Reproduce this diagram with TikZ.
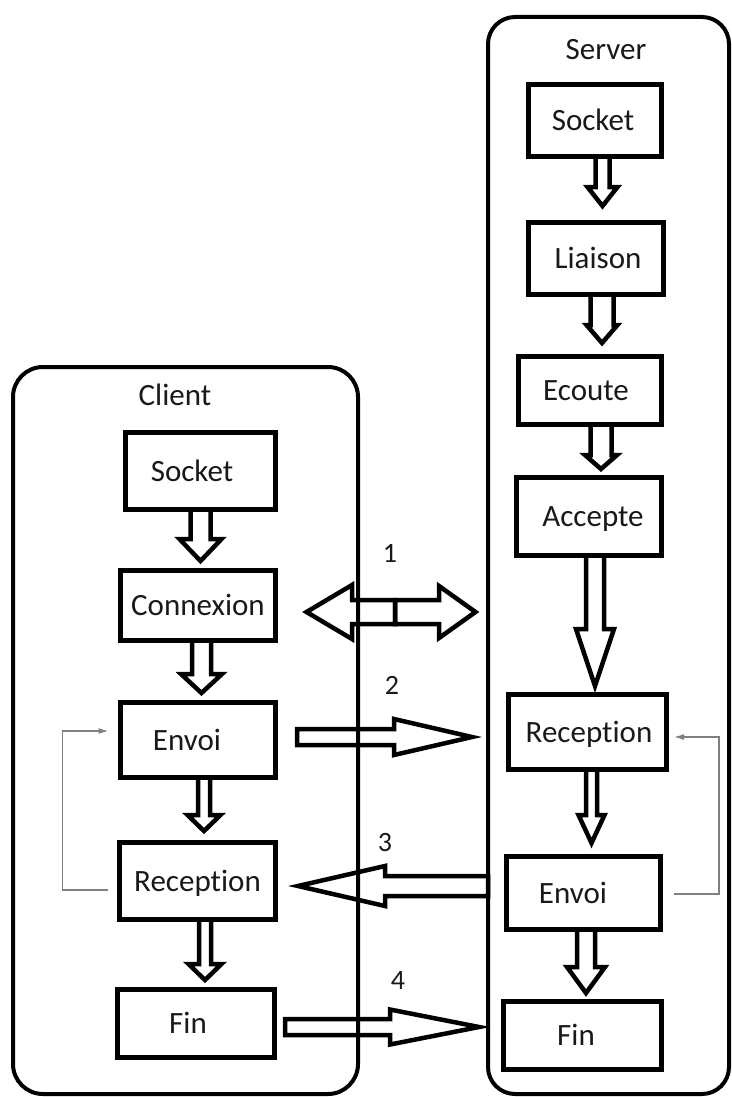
\documentclass[tikz,border=0pt]{standalone}
\usepackage{fontspec}
\setmainfont{Carlito}[Ligatures=NoCommon]
\usetikzlibrary{calc,arrows.meta}
\tikzset{
  bx/.style={draw, line width=5pt, inner sep=0pt, outer sep=0pt, text=black!90,
    font=\fontsize{31}{36}\selectfont, text height=20pt, text depth=0pt},
  txs/.style={execute at begin node={\hspace*{#1}}},
  container/.style={draw, line width=4pt, rounded corners=#1, inner sep=0pt, outer sep=0pt},
  fatarrow/.style={draw, line width=4.5pt, line join=miter},
  loopline/.style={draw=black!50, line width=1.3pt, -{Latex[length=10pt,width=6pt]}},
  ttl/.style={font=\fontsize{31}{36}\selectfont, text=black!90, text height=20pt, text depth=0pt, inner sep=0pt},
  lbl/.style={font=\fontsize{28}{32}\selectfont, text=black!90, text height=18pt, text depth=0pt, inner sep=0pt},
}
% vertical fat arrow: #1 from node, #2 to node, #3 dx, #4 gap, #5 half shaft, #6 half head, #7 head length
\newcommand\vfat[7]{%
  \draw[fatarrow] let \p1=($(#1.south)+(#3,0)$), \p2=($(#2.north)+(0,-#4)$) in
    ({\x1-#5pt},\y1) -- ({\x1-#5pt},{\y2+#7pt}) -- ({\x1-#6pt},{\y2+#7pt}) -- (\x1,\y2)
    -- ({\x1+#6pt},{\y2+#7pt}) -- ({\x1+#5pt},{\y2+#7pt}) -- ({\x1+#5pt},\y1) -- cycle;}
% horizontal fat arrow: #1 start, #2 tip, #3 half shaft, #4 half head, #5 signed head length
\newcommand\hfat[5]{%
  \draw[fatarrow] let \p1=#1, \p2=#2 in
    (\x1,{\y1+#3pt}) -- ({\x2-(#5pt)},{\y1+#3pt}) -- ({\x2-(#5pt)},{\y1+#4pt}) -- (\x2,\y1)
    -- ({\x2-(#5pt)},{\y1-#4pt}) -- ({\x2-(#5pt)},{\y1-#3pt}) -- (\x1,{\y1-#3pt}) -- cycle;}
\begin{document}
\begin{tikzpicture}[x=1pt,y=-1pt]
\useasboundingbox (0,0) rectangle (731,1097);

% containers
\node[container=30pt, minimum width=345pt, minimum height=727pt] (cli) at (185.5,730.5) {};
\node[container=27pt, minimum width=241pt, minimum height=1077pt] (srv) at (608.5,555.5) {};
\node[ttl] (cliT) at (175,395) {Client};
\node[ttl] (srvT) at (606,50) {Server};

% client boxes
\node[bx, minimum width=150pt, minimum height=77pt, txs=-17pt] (cSock) at (200.5,471) {Socket};
\node[bx, minimum width=155pt, minimum height=70pt] (cConn) at (198,605.5) {Connexion};
\node[bx, minimum width=155pt, minimum height=75pt, txs=-22pt] (cEnv) at (198,740) {Envoi};
\node[bx, minimum width=156pt, minimum height=77pt] (cRec) at (197.5,881) {Reception};
\node[bx, minimum width=157pt, minimum height=68pt, txs=-16pt] (cFin) at (196,1023.5) {Fin};

% server boxes
\node[bx, minimum width=133pt, minimum height=72pt, txs=-4pt] (sSock) at (595,120.5) {Socket};
\node[bx, minimum width=135pt, minimum height=72pt, txs=4pt] (sLia) at (596,258.5) {Liaison};
\node[bx, minimum width=143pt, minimum height=68pt, txs=-8pt] (sEcou) at (590,390.5) {Ecoute};
\node[bx, minimum width=145pt, minimum height=78pt, txs=8pt] (sAcc) at (589,516.5) {Accepte};
\node[bx, minimum width=158pt, minimum height=75pt, txs=3pt] (sRec) at (587.5,732) {Reception};
\node[bx, minimum width=154pt, minimum height=73pt, txs=-21pt] (sEnv) at (583.5,893) {Envoi};
\node[bx, minimum width=158pt, minimum height=68pt, txs=-13pt] (sFin) at (582.5,1035.5) {Fin};

% vertical fat arrows
\vfat{cSock}{cConn}{0}{9.5}{10}{21}{22}
\vfat{cConn}{cEnv}{3.5}{9.5}{9.5}{20.5}{19}
\vfat{cEnv}{cRec}{6}{11.5}{6}{16.5}{16}
\vfat{cRec}{cFin}{7.5}{9.5}{6}{16.5}{16}
\vfat{sSock}{sLia}{7.5}{16.5}{7}{15}{19}
\vfat{sLia}{sEcou}{6}{13.5}{11.5}{15.5}{18}
\vfat{sEcou}{sAcc}{11}{8.5}{10.5}{16}{14}
\vfat{sAcc}{sRec}{6}{8.5}{9}{19}{57}
\vfat{sRec}{sEnv}{4}{13.5}{5.5}{13}{28}
\vfat{sEnv}{sFin}{2.5}{8.5}{9}{19}{26}

% horizontal fat arrows
\coordinate (a1m) at ($(cConn.east)+(119.5,6.5)$);
\coordinate (a1l) at ($(cConn.east)+(31,6.5)$);
\coordinate (a1r) at ($(srv.west |- a1m)+(-12.5,0)$);
\hfat{(a1m)}{(a1l)}{12}{27}{-45.5}
\hfat{(a1m)}{(a1r)}{12}{26}{36.5}

\coordinate (a2s) at ($(cEnv.east)+(21.5,-3)$);
\coordinate (a2e) at ($(srv.west |- a2s)+(-16,0)$);
\hfat{(a2s)}{(a2e)}{8}{18}{78}

\coordinate (a3e) at ($(cRec.east)+(22.5,5)$);
\coordinate (a3s) at (srv.west |- a3e);
\hfat{(a3s)}{(a3e)}{10}{20}{-87}

\coordinate (a4s) at ($(cFin.east)+(10.5,3.5)$);
\coordinate (a4e) at ($(srv.west |- a4s)+(-9,0)$);
\hfat{(a4s)}{(a4e)}{8}{17.5}{89}

% labels
\node[lbl] (n1) at (390,553) {1};
\node[lbl] (n2) at (392,685) {2};
\node[lbl] (n3) at (385,842) {3};
\node[lbl] (n4) at (398,980) {4};

% loops
\coordinate (cl1) at ($(cRec.west)+(-12,9)$);
\coordinate (cl2) at ($(cEnv.west)+(-12,-9)$);
\draw[loopline] (cl1) -- ++(-45,0) |- (cl2);
\coordinate (sl1) at ($(sEnv.east)+(13.5,1)$);
\coordinate (sl2) at ($(sRec.east)+(7.5,5)$);
\draw[loopline] (sl1) -- ++(45,0) |- (sl2);
\end{tikzpicture}
\end{document}
